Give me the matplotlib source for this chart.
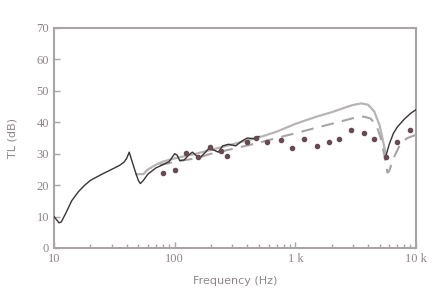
import numpy as np
import matplotlib
matplotlib.use("Agg")
import matplotlib.pyplot as plt
from matplotlib.ticker import FixedLocator, LogLocator, NullFormatter

# dark solid curve, low frequency part (Hz, dB)
f_dark = [10, 10.5, 11, 11.5, 12.5, 14, 16, 18, 20, 25, 30, 35, 38, 40, 42,
          44, 47, 50, 52, 55, 60, 70, 80, 90, 100, 105, 110, 120, 130, 140,
          150, 160, 175, 190, 210, 230, 250, 280, 320, 360, 400, 450, 500]
tl_dark = [10, 9, 8, 8.3, 11, 15, 18, 20, 21.5, 23.5, 25, 26.3, 27.3, 28.5, 30.5,
           28, 24.5, 21.5, 20.5, 21.5, 23.5, 25.5, 26.5, 27.5, 30, 29.5, 27.8, 28, 29.5, 30.5,
           29.5, 28.5, 30, 31.5, 31.2, 30.5, 32.5, 33, 32.5, 34, 35, 34.8, 35.5]

# dark solid curve, above the coincidence dip
f_dark_hi = [5650, 6000, 6500, 7000, 8000, 9000, 10000]
tl_dark_hi = [29.5, 33, 36.5, 38.5, 41, 42.8, 44]

# light solid curve
f_light = [48, 55, 60, 70, 80, 100, 150, 200, 300, 500, 700, 1000, 1500, 2000,
           2500, 3000, 3500, 4000, 4500, 5000, 5300, 5650]
tl_light = [23.5, 23.5, 25, 26.5, 27.5, 28.5, 30, 31.2, 33, 35.2, 37, 39.5, 41.8, 43.2,
            44.5, 45.5, 46, 45.6, 43.5, 39, 34.5, 29.5]

# dashed curve
f_dash = [75, 90, 100, 150, 200, 300, 500, 700, 1000, 1500, 2000, 3000, 3700,
          4200, 4700, 5100, 5500, 5800, 6000, 6500, 7500, 8500, 10000]
tl_dash = [26.5, 27, 27.5, 28.5, 30, 31.5, 33.5, 35, 36.5, 38.3, 39.5, 41.3, 41.8,
           41.2, 39, 35, 29, 24, 24.5, 28.5, 33.5, 35, 36]

# measured points
f_meas = [80, 100, 123, 155, 195, 240, 270, 394, 476, 587, 766, 945, 1186, 1520,
          1910, 2310, 2900, 3720, 4500, 5650, 7000, 8900]
tl_meas = [24, 24.8, 30.3, 29, 32.2, 31, 29.3, 33.8, 35, 33.8, 34.4, 31.8, 34.7, 32.4,
           33.7, 34.7, 37.6, 36.6, 34.7, 29, 33.8, 37.6]

x_ticks = [10, 100, 1000, 10000]
x_labels = ["10", "100", "1 k", "10 k"]
y_ticks = [0, 10, 20, 30, 40, 50, 60, 70]

txt = '#8f8585'
frame = '#aaa4a4'

fig = plt.figure(figsize=(4.39, 3.01), dpi=100)
ax = fig.add_axes([54/439, 53/301, 362/439, 220/301])

ax.plot(f_light, tl_light, color='#b8b4b4', lw=1.6, zorder=2)
ax.plot(f_dash, tl_dash, color='#a8a4a4', lw=1.5, ls=(0, (6, 4)), zorder=2)
ax.plot(f_dark, tl_dark, color='#3a3434', lw=1.0, zorder=3)
ax.plot(f_dark_hi, tl_dark_hi, color='#3a3434', lw=1.0, zorder=3)
ax.plot(f_meas, tl_meas, ls='none', marker='o', ms=3, color='#6a4a52', zorder=4)

ax.set_xscale('log')
ax.set_xlim(10, 10000)
ax.set_ylim(0, 70)
ax.xaxis.set_major_locator(FixedLocator(x_ticks))
ax.set_xticklabels(x_labels)
ax.xaxis.set_minor_locator(LogLocator(base=10, subs=np.arange(2, 10)))
ax.xaxis.set_minor_formatter(NullFormatter())
ax.set_yticks(y_ticks)

for s in ax.spines.values():
    s.set_color(frame)
    s.set_linewidth(1.5)

ax.tick_params(axis='both', which='both', direction='in', color=frame, labelcolor=txt)
ax.tick_params(axis='both', which='major', length=4, width=1, labelsize=9,
               labelfontfamily='Liberation Serif')
ax.tick_params(axis='x', which='minor', length=3, width=1)

ax.set_xlabel("Frequency (Hz)", fontsize=8, color=txt, labelpad=8)
ax.set_ylabel("TL (dB)", fontsize=8, color=txt, labelpad=14)

fig.savefig("out.png", dpi=100)
